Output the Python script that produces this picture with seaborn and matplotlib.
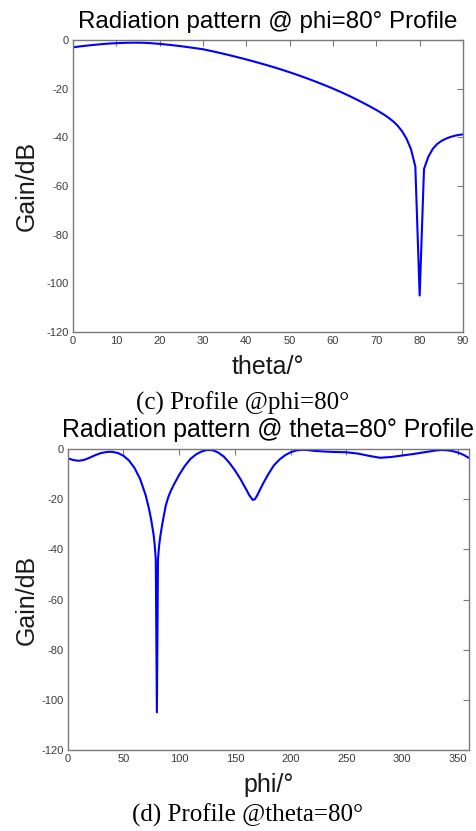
import numpy as np
import pandas as pd
import matplotlib
matplotlib.use("Agg")
import matplotlib.pyplot as plt
import seaborn as sns

# ---- data: (c) profile @ phi = 80 deg ----
theta_deg = [0, 2, 4, 6, 8, 10, 12, 14, 16, 18, 20, 22, 24, 26, 28, 30,
             32, 34, 36, 38, 40, 42, 44, 46, 48, 50, 52, 54, 56, 58, 60,
             62, 64, 66, 68, 70, 71, 72, 73, 74, 75, 76, 77, 78, 79, 80,
             81, 82, 83, 84, 85, 86, 87, 88, 89, 90]
gain_theta = [-3.0, -2.55, -2.15, -1.8, -1.5, -1.3, -1.15, -1.1, -1.12, -1.3,
              -1.6, -1.95, -2.35, -2.8, -3.3, -3.8, -4.56, -5.36, -6.2, -7.08,
              -8.0, -8.96, -9.96, -11.0, -12.1, -13.26, -14.48, -15.76, -17.1,
              -18.5, -19.96, -21.52, -23.18, -24.94, -26.8, -28.76, -29.81,
              -30.93, -32.18, -33.63, -35.38, -37.68, -40.68, -44.88, -52.0,
              -105.0, -53.0, -48.0, -44.8, -42.8, -41.5, -40.6, -39.9, -39.4,
              -39.0, -38.8]

# ---- data: (d) profile @ theta = 80 deg ----
phi_deg = [0, 5, 10, 15, 20, 25, 30, 35, 38, 40, 45, 50, 55, 60, 65, 70, 73,
           75, 77, 78, 79, 80, 81, 82, 83, 85, 88, 90, 92, 95, 100, 105, 110,
           115, 120, 125, 130, 135, 140, 145, 150, 155, 160, 163, 166, 168,
           170, 175, 180, 185, 190, 195, 200, 205, 210, 215, 220, 230, 240,
           250, 260, 270, 280, 290, 300, 310, 320, 330, 335, 340, 345, 350,
           355, 360]
gain_phi = [-3.7, -4.4, -4.7, -4.3, -3.4, -2.4, -1.6, -1.2, -1.1, -1.15, -1.6,
            -2.7, -4.6, -7.6, -12.0, -18.5, -24.0, -28.5, -34.0, -38.0, -44.0,
            -105.0, -44.0, -38.5, -35.0, -29.5, -22.5, -19.5, -17.2, -14.4,
            -10.3, -6.8, -4.0, -2.2, -1.0, -0.4, -0.5, -1.4, -3.0, -5.5, -8.5,
            -12.0, -16.0, -18.5, -20.3, -20.0, -18.5, -14.0, -10.0, -6.5,
            -4.2, -2.5, -1.3, -0.6, -0.3, -0.4, -0.7, -1.0, -1.2, -1.3, -1.8,
            -2.7, -3.5, -3.2, -2.6, -2.0, -1.3, -0.6, -0.4, -0.5, -0.8, -1.4,
            -2.3, -3.6]

titles = ["Radiation pattern @ phi=80\u00b0 Profile",
          "Radiation pattern @ theta=80\u00b0 Profile"]
xlabels = ["theta/\u00b0", "phi/\u00b0"]
ylabel = "Gain/dB"
captions = ["(c) Profile @phi=80\u00b0", "(d) Profile @theta=80\u00b0"]
yticks = [-120, -100, -80, -60, -40, -20, 0]
xticks_c = [0, 10, 20, 30, 40, 50, 60, 70, 80, 90]
xticks_d = [0, 50, 100, 150, 200, 250, 300, 350]

sns.set_theme(style="white")
plt.rcParams["font.family"] = ["Liberation Sans", "DejaVu Sans"]
plt.rcParams["axes.unicode_minus"] = False

W, H = 477, 831
fig = plt.figure(figsize=(W / 100, H / 100), dpi=100)

def frac_axes(l, t, r, b):
    return fig.add_axes([l / W, 1 - b / H, (r - l) / W, (b - t) / H])

ax1 = frac_axes(73, 40, 463, 332)
ax2 = frac_axes(67.7, 449, 469, 750)

df1 = pd.DataFrame({"x": theta_deg, "y": gain_theta})
df2 = pd.DataFrame({"x": phi_deg, "y": gain_phi})

blue = "#0000ff"
sns.lineplot(data=df1, x="x", y="y", ax=ax1, color=blue, linewidth=1.5,
             sort=False, estimator=None)
sns.lineplot(data=df2, x="x", y="y", ax=ax2, color=blue, linewidth=1.5,
             sort=False, estimator=None)

spine_col = "#7a7a7a"
tick_col = "#3a3a3a"
for ax, xt, xl, xlab, title, tsize, pad, lx, ly in [
        (ax1, xticks_c, (0, 90), xlabels[0], titles[0], 17.4, 9.0, -0.087, -0.08),
        (ax2, xticks_d, (0, 360), xlabels[1], titles[1], 17.9, 8.4, -0.073, -0.078)]:
    ax.set_xlim(*xl)
    ax.set_ylim(-120, 0)
    ax.set_xticks(xt)
    ax.set_yticks(yticks)
    ax.tick_params(axis="both", which="both", direction="in", length=4,
                   width=0.8, color=spine_col, labelsize=8,
                   labelcolor=tick_col, top=True, right=True, pad=3)
    for s in ax.spines.values():
        s.set_color(spine_col)
        s.set_linewidth(1.0)
        s.set_visible(True)
    ax.set_title(title, fontsize=tsize, color="black", pad=pad)
    ax.set_xlabel(xlab, fontsize=18, color="#1a1a1a")
    ax.set_ylabel(ylabel, fontsize=18, color="#1a1a1a")
    ax.xaxis.set_label_coords(0.5, ly)
    ax.yaxis.set_label_coords(lx, 0.5)
    ax.grid(False)
    ax.set_facecolor("white")

fig.text(242.5 / W, 1 - 410 / H, captions[0], ha="center", va="baseline",
         fontsize=18, family=["Liberation Serif", "DejaVu Serif"], color="black")
fig.text(247.5 / W, 1 - 822 / H, captions[1], ha="center", va="baseline",
         fontsize=18, family=["Liberation Serif", "DejaVu Serif"], color="black")

fig.savefig("out.png", dpi=100, facecolor="white")
